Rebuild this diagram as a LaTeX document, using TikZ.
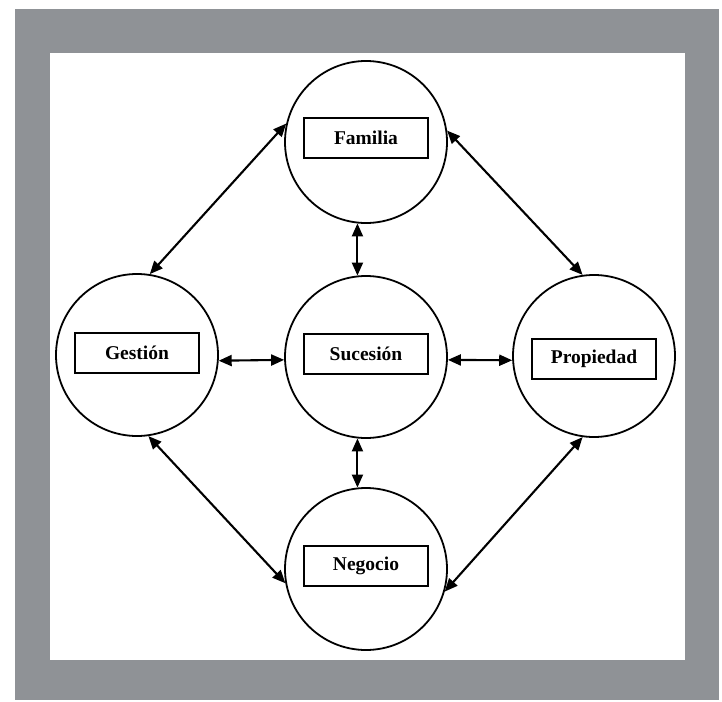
\documentclass[tikz,border=0pt]{standalone}
\usepackage{fontspec}
\setmainfont{Liberation Serif}
\usetikzlibrary{arrows.meta}

\definecolor{framegray}{RGB}{143,146,150}

\begin{document}
\begin{tikzpicture}[
    x=1pt, y=-1pt,
    area/.style={
        circle,
        draw,
        line width=1.8pt,
        minimum size=162pt,
        inner sep=0pt
    },
    label box/.style={
        rectangle,
        draw,
        line width=1.6pt,
        fill=white,
        minimum width=124pt,
        minimum height=40pt,
        font=\fontsize{19.5}{21}\selectfont\bfseries
    },
    link/.style={
        {Triangle[length=13pt,width=11pt]}-{Triangle[length=13pt,width=11pt]},
        line width=2.1pt
    }
]

% frame
\useasboundingbox (0,0) rectangle (722,701);
\fill[framegray] (15,9) rectangle (719,700);
\fill[white] (50,53) rectangle (685,660);

% circles
\node[area] (fam) at (366,142) {};
\node[area] (ges) at (137,355) {};
\node[area] (suc) at (366,357) {};
\node[area] (pro) at (594,356) {};
\node[area] (neg) at (366,569) {};

% labels
\node[label box] (famL) at (366,138) {Familia};
\node[label box] (gesL) at (137,353) {Gestión};
\node[label box] (sucL) at (366,354) {Sucesión};
\node[label box] (proL) at (594,359) {Propiedad};
\node[label box] (negL) at (366,566) {Negocio};

% outer links
\draw[link] (ges.81) -- (fam.167);
\draw[link] (fam.8) -- (pro.98);
\draw[link] (ges.278) -- (neg.190);
\draw[link] (pro.262) -- (neg.344);

% inner links
\draw[link] (fam.264) -- (suc.96);
\draw[link] (suc.264) -- (neg.96);
\draw[link] (ges.356) -- (suc.182);
\draw[link] (suc.358) -- (pro.183);

\end{tikzpicture}
\end{document}
